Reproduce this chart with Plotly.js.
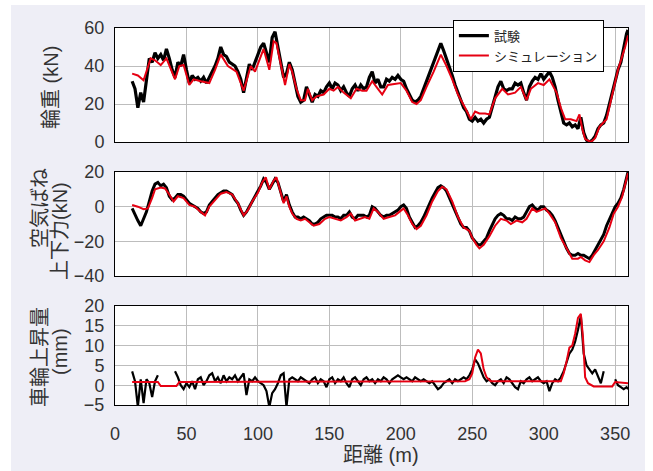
<!DOCTYPE html>
<html>
<head>
<meta charset="utf-8">
<script src="https://cdn.plot.ly/plotly-3.0.1.min.js"></script>
<style>
html,body{margin:0;padding:0;background:#ffffff;}
#chart{position:absolute;left:11px;top:5px;width:634px;height:466px;}
</style>
</head>
<body>
<div id="chart"></div>
<script>
// distance (m) for the test (試験) records
const testDist = [12,14,16,18,20,22,24,26,28,30,32,34,36,38,40,42,44,46,48,50,52,54,56,58,60,62,64,66,68,70,72,74,76,78,80,82,84,86,88,90,92,94,96,98,100,102,104,106,108,110,112,114,116,118,120,122,124,126,128,130,132,134,136,138,140,142,144,146,148,150,152,154,156,158,160,162,164,166,168,170,172,174,176,178,180,182,184,186,188,190,192,194,196,198,200,202,204,206,208,210,212,214,216,218,220,222,224,226,228,230,232,234,236,238,240,242,244,246,248,250,252,254,256,258,260,262,264,266,268,270,272,274,276,278,280,282,284,286,288,290,292,294,296,298,300,302,304,306,308,310,312,314,316,318,320,322,324,326,328,330,332,334,336,338,340,342,344,346,348,350,352,354,356,358,359];
// 輪重 (kN) test
const testWheelLoad = [32,28,18,26,21,34,44,42,47,44,46,43,49,44,38,34,42,40,46,38,31,35,33,34,32,34,31,34,37,40,44,50,46,45,42,41,40,37,33,26,34,41,38,42,45,50,52,47,42,55,58,50,43,34,36,42,38,31,24,21,22,29,25,21,25,24,27,26,29,31,28,31,30,27,29,26,24,28,30,27,30,28,29,34,37,31,33,29,29,33,32,34,33,35,33,32,28,25,22,21,22,24,28,31,35,39,44,48,52,48,44,39,35,30,26,21,18,16,12,11,13,11,12,10,12,13,18,24,29,32,28,27,28,28,31,30,31,26,22,29,32,34,33,36,33,35,37,34,29,22,15,10,9,10,8,9,7,13,5,1,0,1,3,7,9,10,14,20,26,31,38,42,50,57,59];
// 空気ばね上下力 (kN) test
const testSpring = [-1,-5,-8,-11,-7,-3,3,9,13,14,12,13,11,6,4,5,7,7,6,4,2,1,0,-1,-3,-4,-3,1,3,5,7,8,9,9,8,7,4,2,-2,-5,-3,0,3,6,9,12,16,14,10,13,16,14,8,3,7,1,-3,-6,-6,-7,-6,-7,-8,-10,-10,-9,-7,-6,-5,-5,-5,-6,-6,-7,-5,-5,-3,-6,-7,-5,-5,-5,-6,-5,0,-1,-3,-5,-6,-5,-5,-4,-3,-2,0,1,-1,-6,-9,-12,-11,-9,-6,-2,2,5,8,11,12,11,9,5,1,-3,-7,-10,-12,-12,-14,-18,-20,-22,-22,-20,-18,-14,-10,-7,-5,-4,-5,-7,-7,-8,-6,-7,-7,-6,-3,0,1,-1,-2,0,0,-2,-3,-5,-8,-12,-17,-21,-24,-27,-28,-28,-27,-28,-28,-29,-30,-28,-25,-22,-19,-16,-11,-7,-3,0,2,5,10,17,20];
// 車輪上昇量 (mm) test
const testLift = [3.5,1,-5.5,1.5,-4.5,1.5,0.5,-3,1,2.5,null,null,null,null,null,3.5,2,0,-1,0.5,-0.5,1,-1,1.5,2,0,1,2.5,3,1,2,0.5,2.5,1,2,1.5,2.5,1,2,3,-2.5,1.5,1,2,1,0.5,0,-1.5,-5.5,-2,-1,0.5,2.5,3,-5.5,1.5,2,1.5,1,2,1.5,1,0.5,1.5,2,0.5,1.5,1,-0.5,1.5,2,0.5,1.5,1,2,0.5,-0.5,1.5,2,1,0,1.5,2,1,1.5,0.5,1.5,1,2,1.5,0.5,1.5,2,2.5,2,1.5,2,1.5,1,2,1.5,1,1.5,1,0.5,1,0,-1,-0.5,0.5,1,1.5,0.5,1.5,1,1.5,2,1.5,2.5,4,6.5,5.5,3.5,2,1,1.5,0.5,0,1,1.5,0.5,2,1.5,0.5,-0.5,-1,1,0.5,1.5,2,1,1.5,2,1,0.5,1,-1.5,0.5,1.5,1,2,3.5,6,8,9,11,14,17.5,8,5,4,3,4,2,0.5,3.5,null,null,null,1.5,0,-0.5,-1,-0.5,-1];

// シミュレーション
const simDistLoad = [12,16,20,25,28,32,36,39,42,45,48,52,55,60,66,70,74,79,85,90,95,98,101,104,108,111,113,116,119,122,124,127,130,133,135,138,141,146,150,153,156,160,165,169,173,176,180,184,187,191,195,200,204,208,211,214,218,223,228,232,236,240,245,249,252,255,259,262,266,271,275,280,284,288,291,296,300,304,309,312,315,319,323,325,327,329,333,336,339,344,348,352,357,359];
const simWheelLoad = [36,35,32.5,44,43,40.5,44,38,33,40,40.5,30,33,32,31,38,46,40,37,27,40,37,43,49,38,53,52,40,30,41,37,28,22,22,28,22,24,25,28,27,29,26,23,28,27,27,32,28,25,30,30.5,31,27,21,20,22,29,37,46,40,33,25,18,12,16,15,15,14.5,23,28,25,26,29,22,28,31,30,33,26,18,12,12,11,14.5,7,1.5,0,2,8,12,25,38,50,56];
const simDistSpring = [12,16,20,23,26,28,32,35,38,41,44,48,52,56,60,63,66,70,74,78,82,86,90,93,96,100,103,105.5,108,111,113,116,118,120,122,124,127,130,133,136,139,143,147,150,155,158,162,165,168,171,175,178,181,184,188,192,196,199,202,205,208,211,214,218,222,226,229,232,236,240,244,248,250,253,255,258,262,266,270,274,277,281,285,288,292,295,298,301,304,308,312,316,320,324,326,329,332,335,338,342,346,349,352,355,359];
const simSpring = [1,0,-1.5,-1,5,10,11,10.5,7,3,6,5,1,0,-3,-5,0,4,7.5,8.5,7,2,-5,-2,3,8,14,17,10,15,17,8,2,6,0,-4,-7,-8,-7,-9,-11,-10,-7,-6,-7,-8,-6,-4,-8,-7,-6,-7,-1,-3,-7,-6,-5,-3,-1,-5,-10,-13,-11,-5,3,9,11.5,10,3,-6,-12,-14,-18,-22,-24,-22,-17,-11,-7,-8,-10,-8,-9,-7,-1,-3,-2,-1,-4,-9,-18,-24,-30,-30,-29,-31,-32,-28,-25,-20,-12,-4,0,6,19.5];
const simDistLift = [12,30,32,43,45,100,200,245,248,250,252,254,256,258,260,263,312,314,316,318,320,322,324,326,327.5,329,331,333,335,348,350,359];
const simLift = [0.8,0.8,-0.2,-0.2,0.8,0.9,1.0,1.0,1.5,3,7,9,8,4,2,1,1,3,6,9.5,10,13,17,18,12,2,0.5,0,-0.3,-0.3,0.8,0.5];

const seriesNames = ['試験','シミュレーション'];
const xTicks = [0,50,100,150,200,250,300,350];

const BLACK = '#000000', RED = '#e60012';
const tickFont = {family:'Liberation Sans, Arial, sans-serif', size:18, color:'#333333'};
const titleFont = {family:'Liberation Sans, Noto Sans CJK JP, sans-serif', size:20, color:'#333333'};

const traces = [
  {x:testDist, y:testWheelLoad, xaxis:'x', yaxis:'y', name:seriesNames[0], mode:'lines', line:{color:BLACK,width:3.2}, showlegend:true},
  {x:simDistLoad, y:simWheelLoad, xaxis:'x', yaxis:'y', name:seriesNames[1], mode:'lines', line:{color:RED,width:2}, showlegend:true},
  {x:testDist, y:testSpring, xaxis:'x2', yaxis:'y2', name:seriesNames[0], mode:'lines', line:{color:BLACK,width:3}, showlegend:false},
  {x:simDistSpring, y:simSpring, xaxis:'x2', yaxis:'y2', name:seriesNames[1], mode:'lines', line:{color:RED,width:2}, showlegend:false},
  {x:testDist, y:testLift, xaxis:'x3', yaxis:'y3', name:seriesNames[0], mode:'lines', line:{color:BLACK,width:2.2}, connectgaps:false, showlegend:false},
  {x:simDistLift, y:simLift, xaxis:'x3', yaxis:'y3', name:seriesNames[1], mode:'lines', line:{color:RED,width:2}, showlegend:false}
];

function xAxis(anchor, labels){
  return {anchor:anchor, range:[0,359], tickvals:xTicks, showticklabels:labels, showgrid:true, gridcolor:'#bdbdbd', gridwidth:1,
    zeroline:false, showline:true, linecolor:'#000', linewidth:1, mirror:true, ticks:'', tickfont:tickFont, ticklabelstandoff:12};
}
function yAxis(anchor, dom, rng, dt){
  return {anchor:anchor, domain:dom, range:rng, dtick:dt, tick0:0, showgrid:true, gridcolor:'#bdbdbd', gridwidth:1,
    zeroline:false, showline:true, linecolor:'#000', linewidth:1, mirror:true, ticks:'', tickfont:tickFont, ticklabelstandoff:6};
}

const layout = {
  width:634, height:466,
  margin:{l:104, r:17, t:23, b:66},
  paper_bgcolor:'#eeeef6', plot_bgcolor:'#ffffff',
  showlegend:true,
  legend:{x:0.953, xanchor:'right', y:1.022, yanchor:'top', bgcolor:'#ffffff', bordercolor:'#000', borderwidth:1,
    font:{family:'Noto Sans CJK JP, sans-serif', size:13, color:'#222'}, tracegroupgap:0, itemwidth:30},
  xaxis: xAxis('y', false),
  xaxis2: xAxis('y2', false),
  xaxis3: xAxis('y3', true),
  yaxis: yAxis('x', [0.6976,1], [0,60], 20),
  yaxis2: yAxis('x2', [0.3422,0.618], [-40,20], 20),
  yaxis3: yAxis('x3', [0,0.2626], [-5,20], 5),
  annotations:[
    {xref:'paper', yref:'paper', x:-0.1248, y:0.8435, text:'輪重 (kN)', textangle:-90, showarrow:false, font:titleFont, xanchor:'center', yanchor:'middle'},
    {xref:'paper', yref:'paper', x:-0.1462, y:0.5225, text:'空気ばね', textangle:-90, showarrow:false, font:titleFont, xanchor:'center', yanchor:'middle'},
    {xref:'paper', yref:'paper', x:-0.1072, y:0.4615, text:'上下力(kN)', textangle:-90, showarrow:false, font:titleFont, xanchor:'center', yanchor:'middle'},
    {xref:'paper', yref:'paper', x:-0.1462, y:0.1273, text:'車輪上昇量', textangle:-90, showarrow:false, font:titleFont, xanchor:'center', yanchor:'middle'},
    {xref:'paper', yref:'paper', x:-0.1072, y:0.1406, text:'(mm)', textangle:-90, showarrow:false, font:titleFont, xanchor:'center', yanchor:'middle'},
    {xref:'paper', yref:'paper', x:0.5185, y:-0.1326, text:'距離 (m)', showarrow:false, font:titleFont, xanchor:'center', yanchor:'middle'}
  ]
};

Plotly.newPlot('chart', traces, layout, {displayModeBar:false, staticPlot:true});
</script>
</body>
</html>
